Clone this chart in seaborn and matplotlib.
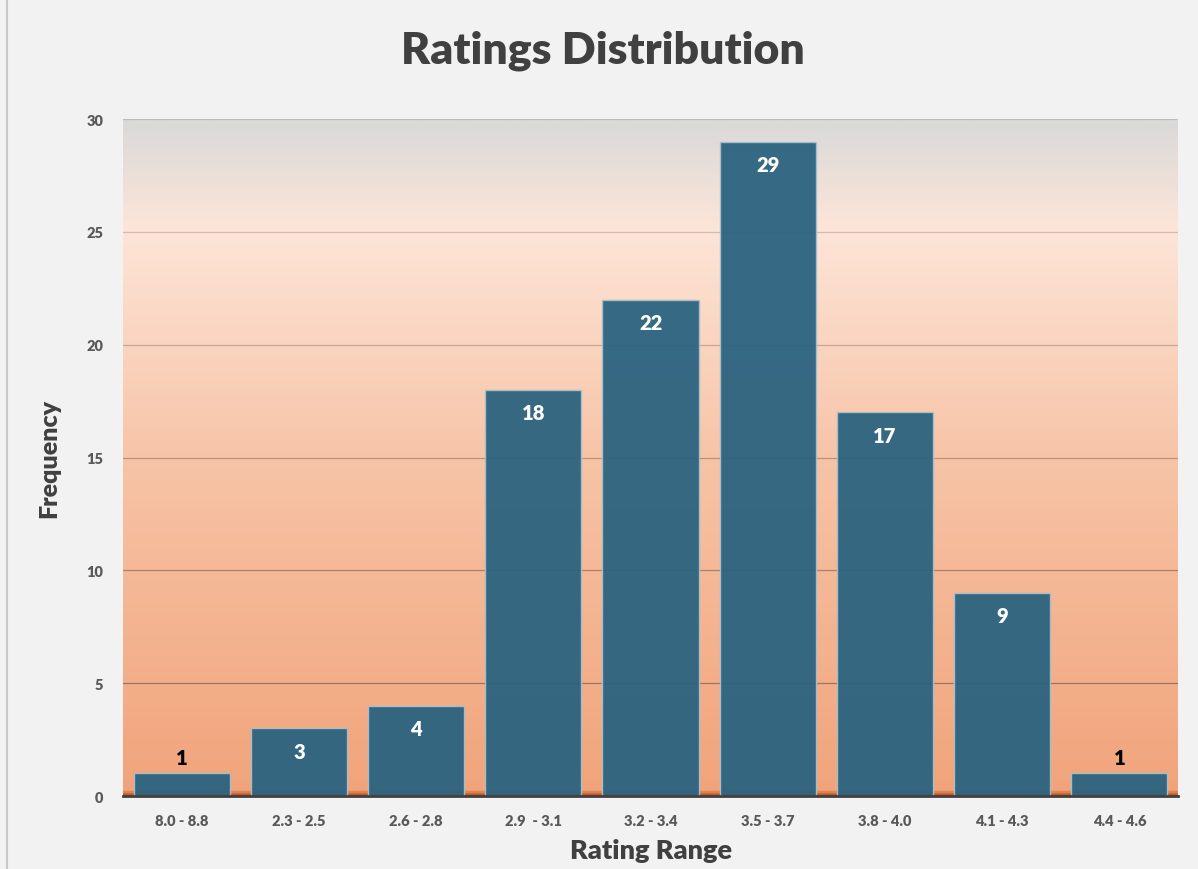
import numpy as np
import pandas as pd
import seaborn as sns
import matplotlib.pyplot as plt
from matplotlib.colors import LinearSegmentedColormap

ranges = ["8.0 - 8.8", "2.3 - 2.5", "2.6 - 2.8", "2.9  - 3.1", "3.2 - 3.4",
          "3.5 - 3.7", "3.8 - 4.0", "4.1 - 4.3", "4.4 - 4.6"]
counts = [1, 3, 4, 18, 22, 29, 17, 9, 1]
y_ticks = [0, 5, 10, 15, 20, 25, 30]

df = pd.DataFrame({"Rating Range": ranges, "Frequency": counts})

sns.set_style({'axes.facecolor': 'none'})
plt.rcParams['font.family'] = ['Lato', 'DejaVu Sans']

fig = plt.figure(figsize=(11.98, 8.70), dpi=100, facecolor='#f2f2f2')
ax = fig.add_axes([0.1027, 0.0839, 0.8806, 0.7781])

# gradient background of the plot area
bg = LinearSegmentedColormap.from_list('bg', [
    (0.0, '#c65a22'), (0.007, '#f1a47b'), (0.5, '#f7c4a7'),
    (0.84, '#fde5d8'), (1.0, '#d9d9d9')])
grad = np.linspace(0, 1, 512).reshape(-1, 1)
ax.imshow(grad, cmap=bg, origin='lower', aspect='auto',
          extent=[0, 1, 0, 1], transform=ax.transAxes, zorder=0)

sns.barplot(data=df, x="Rating Range", y="Frequency", color='#2b6380',
            saturation=1, width=0.82, alpha=0.95, edgecolor='#a8c0cc',
            linewidth=1, ax=ax, zorder=3)

ax.set_ylim(0, 30)
ax.set_xlim(-0.5, len(ranges) - 0.5)
ax.set_yticks(y_ticks)
for t in y_ticks[1:]:
    ax.axhline(t, color='#000000', alpha=0.13 + 0.25 * (1 - t / 30), lw=0.9, zorder=1)

# value labels
for i, v in enumerate(counts):
    if v <= 1:
        ax.text(i, v + 0.3, str(v), ha='center', va='bottom', fontsize=14.5,
                fontweight='heavy', color='black', zorder=5)
    else:
        ax.text(i, v - 0.6, str(v), ha='center', va='top', fontsize=14.5,
                fontweight='heavy', color='white', zorder=5)

for s in ['top', 'right', 'left']:
    ax.spines[s].set_visible(False)
ax.spines['bottom'].set_color('#404040')
ax.spines['bottom'].set_linewidth(2)
ax.spines['bottom'].set_zorder(6)

ax.tick_params(axis='both', length=0, labelsize=10.5, labelcolor='#595959')
ax.tick_params(axis='x', pad=13)
ax.tick_params(axis='y', pad=14)
for lab in ax.get_xticklabels() + ax.get_yticklabels():
    lab.set_fontweight('heavy')

ax.set_xlabel('Rating Range', fontsize=19.5, fontweight='heavy', color='#404040', labelpad=8)
ax.set_ylabel('Frequency', fontsize=18, fontweight='heavy', color='#404040', labelpad=19)
fig.text(0.503, 0.942, 'Ratings Distribution', ha='center', va='center',
         fontsize=32, fontweight='heavy', color='#404040')

# left chart border
fig.add_artist(plt.Line2D([0.006, 0.006], [0, 1], color='#c8c8c8', lw=1.5))

plt.savefig('out.png', dpi=100, facecolor=fig.get_facecolor())
